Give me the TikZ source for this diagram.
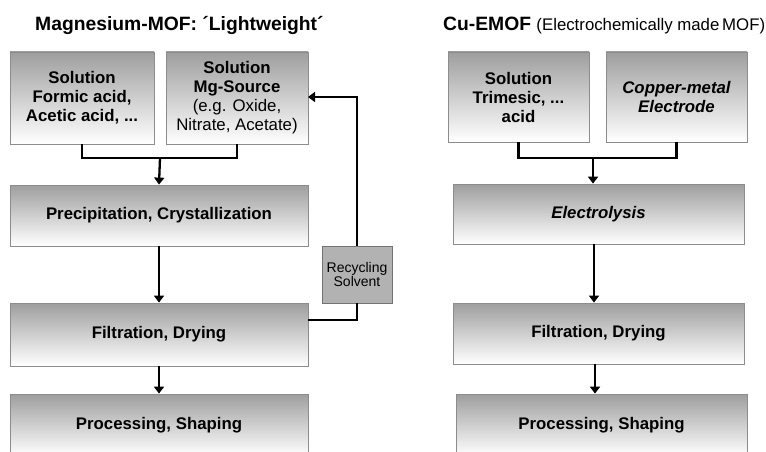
\documentclass[tikz,border=0pt]{standalone}
\usepackage{fontspec}
\setmainfont{Liberation Sans}
\usetikzlibrary{arrows.meta}
\begin{document}
\begin{tikzpicture}[x=1pt,y=-1pt,
  gbox/.style={draw=black!45, line width=0.8pt, top color=black!38, bottom color=white,
    inner sep=0pt, align=center, font=\fontsize{16.8}{19}\selectfont\bfseries},
  recbox/.style={draw=black!55, line width=0.8pt, fill=black!30, inner sep=0pt,
    align=center, font=\fontsize{14}{14}\selectfont},
  conn/.style={line width=2.1pt, black},
  arr/.style={line width=2.3pt, black, -{Triangle[length=7pt,width=10pt]}},
  ttl/.style={anchor=base west, inner sep=0pt, font=\fontsize{19.3}{22}\selectfont\bfseries}]
\useasboundingbox (0,0) rectangle (766,452);
\clip (0,0) rectangle (766,452);
\fill[white] (0,0) rectangle (766,452);

% titles
\node[ttl] (t1) at (35,31) {Magnesium-MOF: ´Lightweight´};
\node[ttl] (t2) at (443,31) {Cu-EMOF \fontsize{16.8}{20}\selectfont\mdseries(Electrochemically made\,MOF)};

% left column
\node[gbox, minimum width=144pt, minimum height=92pt] (A) at (82,98)
  {Solution\\Formic acid,\\Acetic acid, ...};
\node[gbox, minimum width=142pt, minimum height=92pt] (B) at (237,98)
  {Solution\\Mg-Source\\\mdseries(e.g. Oxide,\\\mdseries Nitrate, Acetate)};
\node[gbox, minimum width=298pt, minimum height=61pt] (P) at (159,215.5)
  {Precipitation, Crystallization};
\node[gbox, minimum width=298pt, minimum height=63pt] (F) at (159,334.5)
  {Filtration, Drying};
\node[gbox, minimum width=298pt, minimum height=62pt] (S) at (159,425)
  {Processing, Shaping};
\node[recbox, minimum width=70pt, minimum height=57pt] (R) at (357,274.5)
  {Recycling\\Solvent};

\coordinate (jL) at (160,158);
\coordinate (fo) at (308,320);
\coordinate (bi) at (308,97);
\draw[conn] (A.south) |- (jL) -| (B.south);
\draw[arr] (jL) -- (P.north);
\draw[arr] (P.south) -- (F.north);
\draw[arr] (F.south) -- (S.north);
\draw[conn] (fo) -| (R.south);
\draw[arr] (R.north) |- (bi);

% right column
\node[gbox, minimum width=141pt, minimum height=90pt] (C) at (518.5,97)
  {Solution\\Trimesic, ...\\acid};
\node[gbox, minimum width=141pt, minimum height=90pt] (D) at (676.5,97)
  {\itshape Copper-metal\\\itshape Electrode};
\node[gbox, minimum width=291pt, minimum height=60pt] (E) at (598.5,214)
  {\itshape Electrolysis};
\node[gbox, minimum width=291pt, minimum height=61pt] (G) at (598.5,333.5)
  {Filtration, Drying};
\node[gbox, minimum width=291pt, minimum height=62pt] (H) at (601.5,425)
  {Processing, Shaping};

\coordinate (jR) at (593,158);
\draw[conn] (C.south) |- (jR) -| (D.south);
\draw[arr] (jR) -- (jR |- E.north);
\draw[arr] (E.south -| 594,0) -- (G.north -| 594,0);
\draw[arr] (G.south -| 595,0) -- (H.north -| 595,0);
\end{tikzpicture}
\end{document}
